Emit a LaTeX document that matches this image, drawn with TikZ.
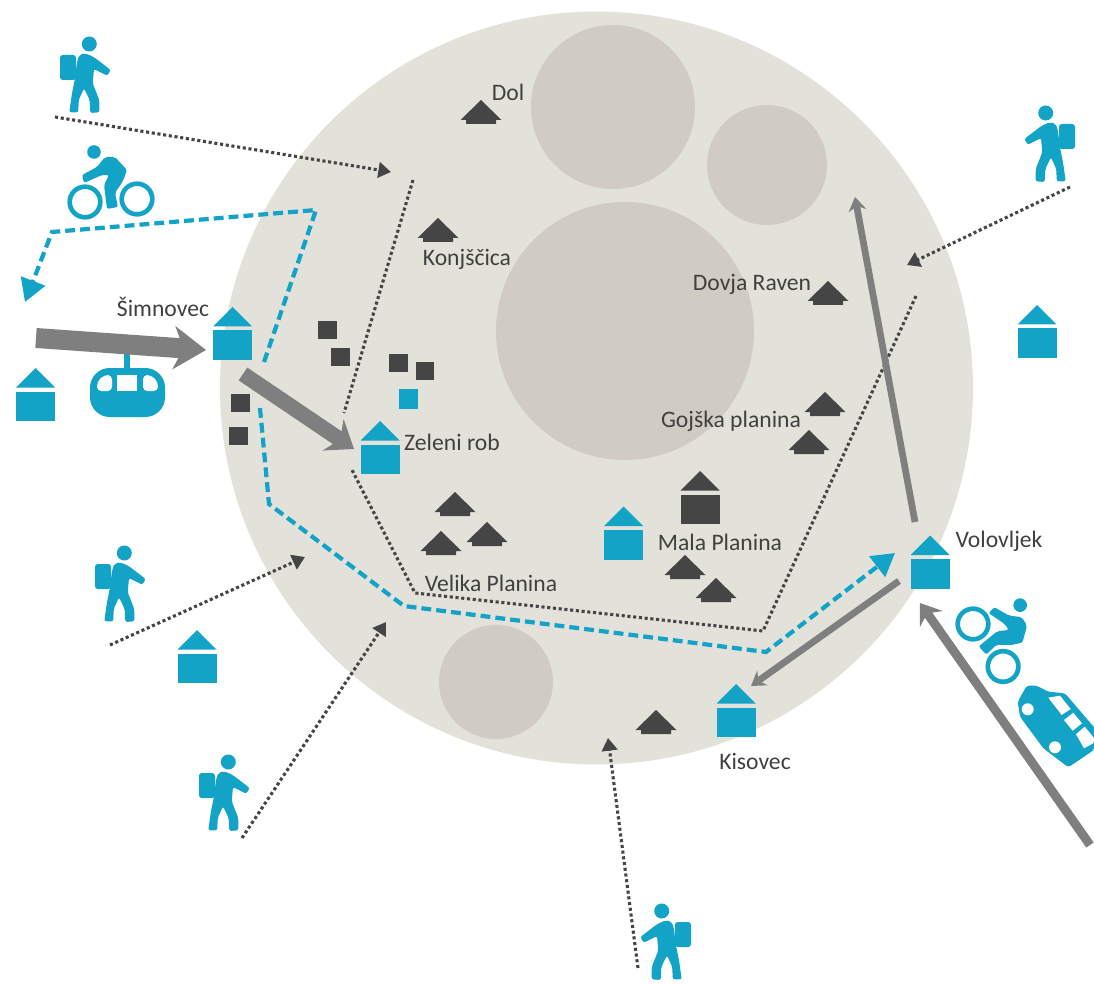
\documentclass[tikz,border=0pt]{standalone}
\usepackage{fontspec}
\setmainfont{Carlito}
\usetikzlibrary{positioning, arrows.meta}

\definecolor{iconblue}{HTML}{12A3C6}
\definecolor{darkgrey}{HTML}{454545}
\definecolor{arrowgrey}{HTML}{7F7F7F}
\definecolor{landcol}{HTML}{E3E2DA}
\definecolor{basincol}{HTML}{D1CCC3}
\definecolor{textcol}{HTML}{404040}

\begin{document}
\begin{tikzpicture}[x=0.025cm, y=-0.025cm]

	% Styles
	\tikzset{
		placelabel/.style={
			draw=none, fill=none, inner sep=0pt, text=textcol,
			font=\fontsize{16.8}{20}\selectfont
		},
		darkbox/.style={
			rectangle, fill=darkgrey, inner sep=0pt, minimum size=13.5pt
		},
		bluebox/.style={
			rectangle, fill=iconblue, inner sep=0pt, minimum size=14pt
		},
		pathdotted/.style={
			draw=darkgrey, line width=2.2pt, dash pattern=on 2.2pt off 1.9pt
		},
		arrowdotted/.style={
			pathdotted, -{Triangle[length=9pt, width=11pt]}
		},
		pathbike/.style={
			draw=iconblue, line width=3pt, dash pattern=on 7pt off 3.6pt,
			-{Triangle[length=16pt, width=18pt]}
		},
		arrowheavy/.style={
			draw=arrowgrey, line width=14.2pt,
			-{Stealth[length=23pt, width=31pt, inset=7pt, line width=0pt]}
		},
		arrowmid/.style={
			draw=arrowgrey, line width=11pt,
			-{Stealth[length=18pt, width=27pt, inset=6pt, line width=0pt]}
		},
		arrowroad/.style={
			draw=arrowgrey, line width=6.4pt,
			-{Stealth[length=14pt, width=20pt, inset=5pt, line width=0pt]}
		},
		arrowthin/.style={
			draw=arrowgrey, line width=4.8pt,
			-{Stealth[length=10pt, width=13pt, inset=3.5pt, line width=0pt]}
		},
		% icons, drawn in reference pixels
		pics/house/.style={code={
			\fill[#1] (0,0) -- (19.5,19.5) -- (-19.5,19.5) -- cycle;
			\fill[#1] (-19.5,23.5) rectangle (19.5,53);
		}},
		pics/hut/.style={code={
			\fill[darkgrey] (0,0) -- (20.5,20) -- (15,20) -- (15,24) -- (-15,24) -- (-15,20) -- (-20.5,20) -- cycle;
		}},
		pics/hiker/.style={code={
			\fill[iconblue] (6.3,-29) circle[radius=7.5];
			\fill[iconblue, rounded corners=2pt] (-23,-18) rectangle (-7,7);
			\fill[iconblue, rounded corners=1.5pt] (2,-19.7) -- (10.3,-16.3) -- (27.7,-3) -- (24.3,2.7)
				-- (11,-4) -- (9.7,10.3) -- (16.3,27) -- (16.3,39.3) -- (7.3,40) -- (6.7,27)
				-- (1,15.3) -- (-4.3,27) -- (-4.7,39.3) -- (-13.7,39.3) -- (-11.3,22)
				-- (-8,5.3) -- (-5.7,-13) -- (-3,-18.7) -- cycle;
		}},
		pics/biker/.style={code={
			\draw[iconblue, line width=3.3pt] (0,0) circle[radius=15.3];
			\draw[iconblue, line width=3.3pt] (52,-3) circle[radius=15.3];
			\fill[iconblue] (9,-50) circle[radius=6.8];
			\fill[iconblue, rounded corners=1.5pt] (-3,-27) -- (12,-35) -- (20,-45) -- (30,-45)
				-- (42,-32) -- (38,-21) -- (30,-9) -- (33,5) -- (22,7) -- (19,-17)
				-- (24,-27) -- (17,-27) -- (-1,-19) -- cycle;
		}}
	}

	\useasboundingbox (0,0) rectangle (1094,985);

	% Plateau
	\fill[landcol] (596.5,388) circle[radius=376.5];
	\fill[basincol] (613,107) circle[radius=82];
	\fill[basincol] (767,165) circle[radius=60];
	\fill[basincol] (625,331) circle[radius=129];
	\fill[basincol] (496,682) circle[radius=57];

	% Small buildings
	\node (boxa) [darkbox] at (327.5,330) {};
	\node (boxb) [darkbox] at (340.7,357) {};
	\node (boxc) [darkbox] at (398.3,363) {};
	\node (boxd) [darkbox] at (425,371) {};
	\node (boxe) [bluebox] at (408.5,399) {};
	\node (boxf) [darkbox] at (240.5,403) {};
	\node (boxg) [darkbox] at (238.7,436) {};

	% Huts
	\pic at (481,100) {hut};
	\pic at (438,218) {hut};
	\pic at (828,281) {hut};
	\pic at (825,392) {hut};
	\pic at (809,430) {hut};
	\pic at (685,555) {hut};
	\pic at (716,578) {hut};
	\pic at (455,492) {hut};
	\pic at (487,522) {hut};
	\pic at (441,531) {hut};
	\pic at (656,710) {hut};

	% Houses
	\pic at (232.5,307) {house=iconblue};
	\pic at (35.5,368) {house=iconblue};
	\pic at (380,421) {house=iconblue};
	\pic at (1037,305) {house=iconblue};
	\pic at (197,630) {house=iconblue};
	\pic at (623.7,506.5) {house=iconblue};
	\pic at (930,535.5) {house=iconblue};
	\pic at (736,684) {house=iconblue};
	\pic at (700,471) {house=darkgrey};

	% Place names
	\node (dol) [placelabel] at (508,92) {Dol};
	\node (konjscica) [placelabel] at (467,259) {Konjščica};
	\node (simnovec) [placelabel] at (163,307) {Šimnovec};
	\node (zeleni) [placelabel] at (452,442) {Zeleni rob};
	\node (dovja) [placelabel] at (752,284) {Dovja Raven};
	\node (gojska) [placelabel] at (731,421) {Gojška planina};
	\node (mala) [placelabel] at (720,542) {Mala Planina};
	\node (velika) [placelabel] at (491,583) {Velika Planina};
	\node (volovljek) [placelabel] at (999,541) {Volovljek};
	\node (kisovec) [placelabel] at (755,761) {Kisovec};

	% Route points
	\coordinate (hikeastart) at (55,117);
	\coordinate (hikeaend) at (391,172);
	\coordinate (ridgetop) at (413,180);
	\coordinate (ridgelow) at (344,413);
	\coordinate (hikebstart) at (1070,187);
	\coordinate (hikebend) at (907,265);
	\coordinate (trailtop) at (916,296);
	\coordinate (trailcorner) at (763,631);
	\coordinate (trailmid) at (415,593);
	\coordinate (trailend) at (352,470);
	\coordinate (hikecstart) at (110,645);
	\coordinate (hikecend) at (305,557);
	\coordinate (hikedstart) at (242,838);
	\coordinate (hikedend) at (386,622);
	\coordinate (hikeestart) at (638,968);
	\coordinate (hikeeend) at (608,738);
	\coordinate (bikeastart) at (264,362);
	\coordinate (bikeacorner) at (316,210);
	\coordinate (bikeabend) at (52,232);
	\coordinate (bikeaend) at (25,302);
	\coordinate (bikebstart) at (260,408);
	\coordinate (bikebbend) at (269,504);
	\coordinate (bikebmid) at (404,606);
	\coordinate (bikebcorner) at (766,652);
	\coordinate (bikebend) at (895,553);
	\coordinate (cablestart) at (36,338);
	\coordinate (cableend) at (206,350);
	\coordinate (ropestart) at (243,374);
	\coordinate (ropeend) at (354,449);
	\coordinate (roadstart) at (1090,845);
	\coordinate (roadend) at (920,603);
	\coordinate (climbstart) at (915,522);
	\coordinate (climbend) at (855,197);
	\coordinate (linkstart) at (899,581);
	\coordinate (linkend) at (751,686);

	% Dotted hiking routes
	\draw[arrowdotted] (hikeastart) -- (hikeaend);
	\draw[pathdotted] (ridgetop) -- (ridgelow);
	\draw[arrowdotted] (hikebstart) -- (hikebend);
	\draw[pathdotted] (trailtop) -- (trailcorner) -- (trailmid) -- (trailend);
	\draw[arrowdotted] (hikecstart) -- (hikecend);
	\draw[arrowdotted] (hikedstart) -- (hikedend);
	\draw[arrowdotted] (hikeestart) -- (hikeeend);

	% Dashed cycling routes
	\draw[pathbike] (bikeastart) -- (bikeacorner) -- (bikeabend) -- (bikeaend);
	\draw[pathbike] (bikebstart) -- (bikebbend) -- (bikebmid) -- (bikebcorner) -- (bikebend);

	% Gondola, drawn before the cable arrow
	\fill[iconblue] (124,350) rectangle (130,370);
	\fill[iconblue, rounded corners=14pt] (90,368) rectangle (165,417);
	\fill[white, rounded corners=3pt] (97,391) -- (97,382) -- (104,375) -- (112,375) -- (112,391) -- cycle;
	\fill[white] (117,375) rectangle (137,391);
	\fill[white, rounded corners=3pt] (143,375) -- (151,375) -- (158,382) -- (158,391) -- (143,391) -- cycle;

	% Road and cable arrows
	\draw[arrowheavy] (cablestart) -- (cableend);
	\draw[arrowmid] (ropestart) -- (ropeend);
	\draw[arrowroad] (roadstart) -- (roadend);
	\draw[arrowthin] (climbstart) -- (climbend);
	\draw[arrowthin] (linkstart) -- (linkend);

	% Visitors
	\pic at (83,73) {hiker};
	\pic[xscale=-1] at (1052,142) {hiker};
	\pic at (118,582) {hiker};
	\pic at (222,791) {hiker};
	\pic[xscale=-1] at (668,940) {hiker};
	\pic at (85,202) {biker};
	\pic[rotate=-58] at (973,624) {biker};

	% Car
	\fill[iconblue, rounded corners=2pt] (1017.7,701.7) -- (1026.7,685.7) -- (1036.7,685.7) -- (1048.3,691.7)
		-- (1065,693.3) -- (1095,728.3) -- (1094,750) -- (1068.3,767.3) -- (1043.3,748.3) -- (1020,716.7) -- cycle;
	\fill[white] (1048.3,697.7) -- (1060,695.7) -- (1070.7,709) -- (1061.7,715) -- cycle;
	\fill[white] (1064,720) -- (1073.3,712.7) -- (1082,723.3) -- (1072.7,730.7) -- cycle;
	\fill[white] (1076,734.3) -- (1084.7,726.7) -- (1094.3,738.3) -- (1093.3,743.3) -- (1084,748.3) -- cycle;
	\fill[white] (1027.7,709.3) circle[radius=6];
	\fill[white] (1055,747.3) circle[radius=6];

\end{tikzpicture}
\end{document}
